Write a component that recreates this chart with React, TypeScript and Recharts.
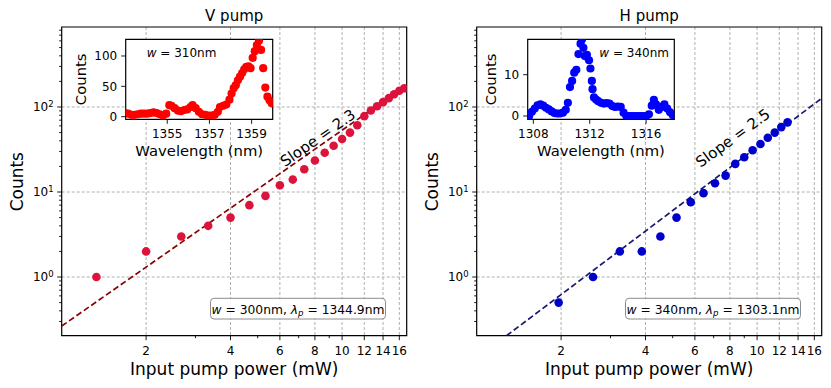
import React from 'react';
import {
    ComposedChart,
    ScatterChart,
    Scatter,
    Line,
    XAxis,
    YAxis,
    CartesianGrid,
    ReferenceArea,
    ReferenceDot,
} from 'recharts';

const FONT = '"DejaVu Sans", "Liberation Sans", sans-serif';

// V pump: input pump power (mW) vs counts
const vPower = [1.33, 2, 2.67, 3.33, 4, 4.67, 5.33, 6, 6.67, 7.33, 8, 8.67, 9.33, 10, 10.67, 11.33, 12, 12.67, 13.33, 14, 14.67, 15.33, 16, 16.67];
const vCounts = [1, 2, 3, 4, 5, 7, 9, 12, 14, 18.5, 23.5, 29, 35, 42, 50, 61, 78, 91, 102, 114, 127, 141, 155, 166];

// H pump
const hPower = [1.96, 2.6, 3.24, 3.88, 4.52, 5.16, 5.8, 6.44, 7.08, 7.72, 8.36, 9, 9.64, 10.28, 10.92, 11.56, 12.2, 12.84];
const hCounts = [0.5, 1, 2, 2, 3, 5, 7.6, 9.7, 12.7, 15.6, 21.4, 25.6, 31, 36.7, 43.5, 50, 58, 66];

// dashed power-law fits, end points
const vFitPower = [1, 17];
const vFitCounts = [0.265, 181];
const hFitPower = [1.278, 17];
const hFitCounts = [0.204, 126.5];

// inset spectra
const vWavelength = [1353.0, 1353.15, 1353.3, 1353.45, 1353.6, 1353.75, 1353.9, 1354.05, 1354.2, 1354.35, 1354.5, 1354.65, 1354.8, 1354.95, 1355.1, 1355.2, 1355.35, 1355.5, 1355.65, 1355.8, 1355.95, 1356.1, 1356.2, 1356.35, 1356.5, 1356.65, 1356.8, 1356.95, 1357.1, 1357.25, 1357.4, 1357.5, 1357.65, 1357.8, 1357.95, 1358.05, 1358.15, 1358.25, 1358.35, 1358.45, 1358.55, 1358.65, 1358.75, 1358.85, 1358.95, 1359.05, 1359.15, 1359.25, 1359.35, 1359.45, 1359.55, 1359.65, 1359.75, 1359.85, 1359.95];
const vSpectrum = [6, 5, 3, 3, 4, 5, 5, 5, 6, 7, 6, 4, 2, 5, 19, 18, 14, 10, 9, 11, 12, 16, 19, 14, 8, 4, 3, 2, 2, 3, 8, 16, 18, 20, 28, 38, 47, 52, 60, 66, 72, 78, 82, 83, 80, 97, 108, 118, 125, 110, 80, 48, 33, 27, 22];

const hWavelength = [1307.7, 1307.9, 1308.1, 1308.3, 1308.5, 1308.7, 1308.9, 1309.1, 1309.3, 1309.5, 1309.7, 1309.9, 1310.1, 1310.3, 1310.45, 1310.6, 1310.75, 1310.9, 1311.05, 1311.2, 1311.35, 1311.45, 1311.55, 1311.65, 1311.8, 1311.95, 1312.05, 1312.15, 1312.2, 1312.3, 1312.45, 1312.6, 1312.8, 1313.0, 1313.2, 1313.4, 1313.6, 1313.8, 1314.0, 1314.2, 1314.4, 1314.6, 1314.8, 1315.0, 1315.2, 1315.4, 1315.6, 1315.8, 1316.0, 1316.2, 1316.4, 1316.55, 1316.7, 1316.9, 1317.1, 1317.3, 1317.5, 1317.7, 1317.9];
const hSpectrum = [0, 1, 1.8, 2.6, 2.8, 2.5, 2, 1.6, 1.1, 0.7, 0.6, 0.6, 0.8, 1.5, 3.2, 7, 8.5, 10.5, 11.2, 15, 17.5, 18.5, 16.5, 14.5, 14.8, 13.5, 11.5, 8.5, 6.5, 4.5, 4, 3.6, 3.2, 3, 3.1, 3, 2.4, 2.2, 2.3, 2.2, 0.8, 0, 0, 0, 0, 0, 0, 0, 0, 0.4, 2.5, 3.9, 2.8, 1.5, 2.2, 2.8, 1.8, 0.9, 0.2];

// axis ticks
const powerTicks = [2, 4, 6, 8, 10, 12, 14, 16];
const powerMinor = [3, 5, 7, 9];
const countDecades = [1, 10, 100];
const countMinor = [0.3, 0.4, 0.5, 0.6, 0.7, 0.8, 0.9, 2, 3, 4, 5, 6, 7, 8, 9, 20, 30, 40, 50, 60, 70, 80, 90, 200, 300, 400, 500, 600, 700, 800];

const POWER_DOMAIN = [1, 17];
const COUNT_DOMAIN = [0.204, 873];

const toPoints = (xs: number[], ys: number[]) => xs.map((x, i) => ({ x, y: ys[i] }));

const PowerTick = (props: any) => {
    const { x, y, payload } = props;
    const major = powerTicks.includes(payload.value);
    return (
        <g>
            <line x1={x} x2={x} y1={y} y2={y + (major ? 4.5 : 2.5)} stroke="#000" strokeWidth={0.9} />
            {major && (
                <text x={x} y={y + 19.5} textAnchor="middle" fontSize={12} fontFamily={FONT} fill="#000">
                    {payload.value}
                </text>
            )}
        </g>
    );
};

const CountTick = (props: any) => {
    const { x, y, payload } = props;
    const major = countDecades.includes(payload.value);
    return (
        <g>
            <line x1={x - (major ? 4.5 : 2.5)} x2={x} y1={y} y2={y} stroke="#000" strokeWidth={0.9} />
            {major && (
                <text x={x - 8} y={y} textAnchor="end" fontSize={12} fontFamily={FONT} fill="#000">
                    <tspan dy={4.4}>10</tspan>
                    <tspan dy={-4.8} fontSize={8.5}>{Math.round(Math.log10(payload.value))}</tspan>
                </text>
            )}
        </g>
    );
};

const LinearXTick = (props: any) => {
    const { x, y, payload } = props;
    return (
        <g>
            <line x1={x} x2={x} y1={y} y2={y + 4.5} stroke="#000" strokeWidth={0.9} />
            <text x={x} y={y + 19} textAnchor="middle" fontSize={12} fontFamily={FONT} fill="#000">
                {payload.value}
            </text>
        </g>
    );
};

const LinearYTick = (props: any) => {
    const { x, y, payload } = props;
    return (
        <g>
            <line x1={x - 4.5} x2={x} y1={y} y2={y} stroke="#000" strokeWidth={0.9} />
            <text x={x - 8.5} y={y + 4.4} textAnchor="end" fontSize={12} fontFamily={FONT} fill="#000">
                {payload.value}
            </text>
        </g>
    );
};

interface PanelProps {
    width: number;
    rightMargin: number;
    points: { x: number; y: number }[];
    fit: { x: number; y: number }[];
    dotColor: string;
    fitColor: string;
    slope: string;
    slopeAngle: number;
}

const Panel: React.FC<PanelProps> = ({ width, rightMargin, points, fit, dotColor, fitColor, slope, slopeAngle }) => (
    <ComposedChart width={width} height={388} margin={{ top: 27, right: rightMargin, bottom: 0, left: 0 }}>
        <CartesianGrid stroke="#b0b0b0" strokeDasharray="3 2" strokeWidth={1} horizontalValues={countDecades} verticalValues={powerTicks} />
        <XAxis
            dataKey="x"
            type="number"
            scale="log"
            domain={POWER_DOMAIN}
            allowDataOverflow
            ticks={[...powerTicks, ...powerMinor].sort((a, b) => a - b)}
            interval={0}
            tick={<PowerTick />}
            tickLine={false}
            axisLine={false}
            tickSize={0}
            tickMargin={0}
            height={52.3}
        />
        <YAxis
            dataKey="y"
            type="number"
            scale="log"
            domain={COUNT_DOMAIN}
            allowDataOverflow
            ticks={[...countDecades, ...countMinor].sort((a, b) => a - b)}
            interval={0}
            tick={<CountTick />}
            tickLine={false}
            axisLine={false}
            tickSize={0}
            tickMargin={0}
            width={61.7}
        />
        <Line data={fit} dataKey="y" stroke={fitColor} strokeWidth={1.7} strokeDasharray="6 3" dot={false} isAnimationActive={false} />
        <Scatter
            data={points}
            isAnimationActive={false}
            shape={(p: any) => <circle cx={p.cx} cy={p.cy} r={4.3} fill={dotColor} />}
        />
        <ReferenceArea x1={POWER_DOMAIN[0]} x2={POWER_DOMAIN[1]} y1={COUNT_DOMAIN[0]} y2={COUNT_DOMAIN[1]} fill="none" stroke="#000" strokeWidth={1.2} />
        <ReferenceDot
            x={8.2}
            y={43}
            r={0}
            shape={(p: any) => (
                <text
                    x={p.cx}
                    y={p.cy}
                    transform={`rotate(${slopeAngle} ${p.cx} ${p.cy})`}
                    textAnchor="middle"
                    dominantBaseline="central"
                    fontSize={15}
                    fontFamily={FONT}
                    fill="#000"
                >
                    {slope}
                </text>
            )}
        />
    </ComposedChart>
);

interface InsetProps {
    points: { x: number; y: number }[];
    color: string;
    xDomain: number[];
    yDomain: number[];
    xTicks: number[];
    yTicks: number[];
    rightMargin: number;
}

const Inset: React.FC<InsetProps> = ({ points, color, xDomain, yDomain, xTicks, yTicks, rightMargin }) => (
    <ScatterChart width={215} height={130} margin={{ top: 5.3, right: rightMargin, bottom: 0, left: 0 }}>
        <XAxis
            dataKey="x"
            type="number"
            domain={xDomain}
            allowDataOverflow
            ticks={xTicks}
            interval={0}
            tick={<LinearXTick />}
            tickLine={false}
            axisLine={false}
            tickSize={0}
            tickMargin={0}
            height={44.7}
        />
        <YAxis
            dataKey="y"
            type="number"
            domain={yDomain}
            allowDataOverflow
            ticks={yTicks}
            interval={0}
            tick={<LinearYTick />}
            tickLine={false}
            axisLine={false}
            tickSize={0}
            tickMargin={0}
            width={60.7}
        />
        <Scatter
            data={points}
            isAnimationActive={false}
            shape={(p: any) => <circle cx={p.cx} cy={p.cy} r={4.1} fill={color} />}
        />
        <ReferenceArea x1={xDomain[0]} x2={xDomain[1]} y1={yDomain[0]} y2={yDomain[1]} fill="none" stroke="#000" strokeWidth={1.2} />
    </ScatterChart>
);

const txt = { fontFamily: FONT, fill: '#000' };

const Annotation = ({ x, w, lam }: { x: number; w: string; lam: string }) => (
    <g>
        <rect x={x} y={298.3} width={175} height={20.7} rx={3.5} fill="#fff" fillOpacity={0.85} stroke="#8c8c8c" strokeWidth={1} />
        <text x={x + 87.5} y={313.5} textAnchor="middle" fontSize={12.3} {...txt}>
            <tspan fontStyle="italic">w</tspan>
            <tspan>{` = ${w}nm, `}</tspan>
            <tspan fontStyle="italic">λ</tspan>
            <tspan fontStyle="italic" fontSize={8.6} dy={2.5}>p</tspan>
            <tspan dy={-2.5}>{` = ${lam}nm`}</tspan>
        </text>
    </g>
);

export default function App() {
    const vPoints = toPoints(vPower, vCounts);
    const hPoints = toPoints(hPower, hCounts);
    const vFit = toPoints(vFitPower, vFitCounts);
    const hFit = toPoints(hFitPower, hFitCounts);
    const vSpec = toPoints(vWavelength, vSpectrum);
    const hSpec = toPoints(hWavelength, hSpectrum);

    return (
        <div style={{ position: 'absolute', left: 0, top: 0, width: 831, height: 388, background: '#fff', overflow: 'hidden' }}>
            <div style={{ position: 'absolute', left: 0, top: 0 }}>
                <Panel width={415} rightMargin={8.3} points={vPoints} fit={vFit} dotColor="#dc143c" fitColor="#8b0000" slope="Slope = 2.3" slopeAngle={-35} />
            </div>
            <div style={{ position: 'absolute', left: 415, top: 0 }}>
                <Panel width={416} rightMargin={9.3} points={hPoints} fit={hFit} dotColor="#0000cd" fitColor="#191970" slope="Slope = 2.5" slopeAngle={-36} />
            </div>

            <div style={{ position: 'absolute', left: 125.7, top: 39.3, width: 147, height: 80, background: '#fff' }} />
            <div style={{ position: 'absolute', left: 527.7, top: 39.3, width: 146.6, height: 80, background: '#fff' }} />

            <div style={{ position: 'absolute', left: 65, top: 34 }}>
                <Inset points={vSpec} color="#ff0000" xDomain={[1353.03, 1360.0]} yDomain={[-4.3, 127.5]} xTicks={[1355, 1357, 1359]} yTicks={[0, 50, 100]} rightMargin={7.3} />
            </div>
            <div style={{ position: 'absolute', left: 467, top: 34 }}>
                <Inset points={hSpec} color="#0000ff" xDomain={[1307.6, 1318.0]} yDomain={[-0.8, 18.57]} xTicks={[1308, 1312, 1316]} yTicks={[0, 10]} rightMargin={7.7} />
            </div>

            <svg width={831} height={388} style={{ position: 'absolute', left: 0, top: 0, pointerEvents: 'none' }}>
                <text x={234.2} y={20.8} textAnchor="middle" fontSize={15} {...txt}>V pump</text>
                <text x={649.2} y={20.8} textAnchor="middle" fontSize={15} {...txt}>H pump</text>

                <text x={234.2} y={374.5} textAnchor="middle" fontSize={17} {...txt}>Input pump power (mW)</text>
                <text x={649.2} y={374.5} textAnchor="middle" fontSize={17} {...txt}>Input pump power (mW)</text>
                <text transform="translate(16.7 181.7) rotate(-90)" textAnchor="middle" dominantBaseline="central" fontSize={17} {...txt}>Counts</text>
                <text transform="translate(431.7 181.7) rotate(-90)" textAnchor="middle" dominantBaseline="central" fontSize={17} {...txt}>Counts</text>

                <text transform="translate(80 79.3) rotate(-90)" textAnchor="middle" dominantBaseline="central" fontSize={14.8} {...txt}>Counts</text>
                <text x={199.2} y={155.7} textAnchor="middle" fontSize={14.8} {...txt}>Wavelength (nm)</text>
                <text transform="translate(490 79.3) rotate(-90)" textAnchor="middle" dominantBaseline="central" fontSize={14.8} {...txt}>Counts</text>
                <text x={601} y={155.7} textAnchor="middle" fontSize={14.8} {...txt}>Wavelength (nm)</text>

                <text x={146.7} y={56.5} fontSize={12} {...txt}>
                    <tspan fontStyle="italic">w</tspan> = 310nm
                </text>
                <text x={669} y={57} textAnchor="end" fontSize={12} {...txt}>
                    <tspan fontStyle="italic">w</tspan> = 340nm
                </text>

                <Annotation x={210.5} w="300" lam="1344.9" />
                <Annotation x={625.5} w="340" lam="1303.1" />
            </svg>
        </div>
    );
}
